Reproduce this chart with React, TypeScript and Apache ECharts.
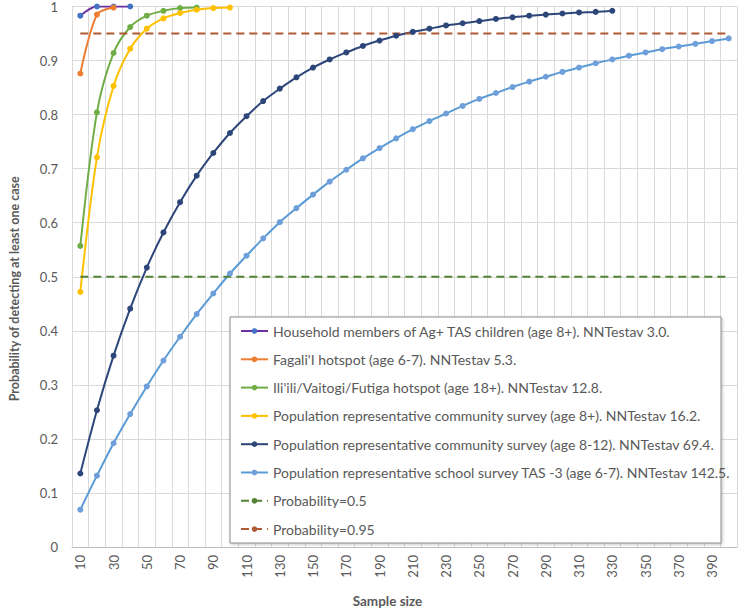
import React, { useEffect, useRef } from 'react';
import * as echarts from 'echarts';

const categories = [
  '10', '20', '30', '40', '50', '60', '70', '80', '90', '100',
  '110', '120', '130', '140', '150', '160', '170', '180', '190', '200',
  '210', '220', '230', '240', '250', '260', '270', '280', '290', '300',
  '310', '320', '330', '340', '350', '360', '370', '380', '390', '400',
];

const household = [0.983, 1.0, 1.0, 1.0];
const fagali = [0.876, 0.985, 0.998];
const iliili = [0.557, 0.804, 0.914, 0.962, 0.983, 0.992, 0.997, 0.998];
const communityAll = [0.472, 0.721, 0.853, 0.922, 0.959, 0.978, 0.988, 0.994, 0.997, 0.998];
const community812 = [
  0.136, 0.253, 0.354, 0.441, 0.517, 0.582, 0.638, 0.687, 0.729, 0.766,
  0.797, 0.825, 0.848, 0.869, 0.887, 0.902, 0.915, 0.927, 0.937, 0.946,
  0.953, 0.959, 0.965, 0.969, 0.973, 0.977, 0.980, 0.983, 0.985, 0.987,
  0.989, 0.990, 0.992,
];
const school = [
  0.069, 0.132, 0.192, 0.246, 0.297, 0.345, 0.389, 0.431, 0.469, 0.506,
  0.539, 0.571, 0.601, 0.627, 0.652, 0.676, 0.698, 0.719, 0.738, 0.756,
  0.773, 0.788, 0.802, 0.816, 0.829, 0.840, 0.851, 0.861, 0.870, 0.879,
  0.887, 0.895, 0.902, 0.909, 0.915, 0.921, 0.926, 0.931, 0.936, 0.941,
];
const thresholdLow = 0.5;
const thresholdHigh = 0.95;

const seriesNames = [
  'Household members of Ag+ TAS children (age 8+). NNTestav 3.0.',
  "Fagali'I hotspot (age 6-7). NNTestav 5.3.",
  "Ili'ili/Vaitogi/Futiga hotspot (age 18+). NNTestav 12.8.",
  'Population representative community survey (age 8+). NNTestav 16.2.',
  'Population representative community survey (age 8-12). NNTestav 69.4.',
  'Population representative school survey TAS -3 (age 6-7). NNTestav 142.5.',
  'Probability=0.5',
  'Probability=0.95',
];

const FONT = 'Lato';
const TEXT = '#595959';

function lineSeries(name: string, data: number[], lineColor: string, markerColor: string) {
  return {
    name,
    type: 'line',
    data,
    smooth: 0.3,
    symbol: 'circle',
    symbolSize: 6,
    showSymbol: true,
    lineStyle: { color: lineColor, width: 2 },
    itemStyle: { color: markerColor },
    z: 2,
  };
}

function dashSeries(name: string, value: number, color: string) {
  const first = categories[0];
  const last = categories[categories.length - 1];
  return {
    name,
    type: 'line',
    data: [[first, value], [last, value]],
    symbol: 'none',
    lineStyle: { color, width: 2, type: [8, 5] },
    itemStyle: { color },
    z: 2,
  };
}

export default function App() {
  const ref = useRef<HTMLDivElement>(null);
  useEffect(() => {
    const chart = echarts.init(ref.current!, null, { renderer: 'svg' });
    chart.setOption({
      animation: false,
      textStyle: { fontFamily: FONT },
      grid: { left: 62, right: 1, top: 5, bottom: 59, containLabel: false },
      xAxis: {
        type: 'category',
        data: categories,
        boundaryGap: true,
        name: 'Sample size',
        nameLocation: 'middle',
        nameGap: 47,
        nameTextStyle: { color: TEXT, fontSize: 13.5, fontWeight: 'bold', fontFamily: FONT, padding: [0, 34, 0, 0] },
        axisLine: { show: true, lineStyle: { color: '#bfbfbf', width: 1 } },
        axisTick: { show: false },
        axisLabel: { interval: 1, rotate: 90, margin: 8, color: TEXT, fontSize: 13, fontFamily: FONT },
        splitLine: { show: true, interval: 0, lineStyle: { color: '#d9d9d9', width: 1 } },
      },
      yAxis: {
        type: 'value',
        min: 0,
        max: 1,
        interval: 0.1,
        name: 'Probability of detecting at least one case',
        nameLocation: 'middle',
        nameGap: 51,
        nameTextStyle: { color: TEXT, fontSize: 12.5, fontWeight: 'bold', fontFamily: FONT, padding: [0, 24, 0, 0] },
        axisLine: { show: false },
        axisTick: { show: false },
        axisLabel: { color: TEXT, fontSize: 13, fontFamily: FONT, margin: 14 },
        splitLine: { show: true, lineStyle: { color: '#d9d9d9', width: 1 } },
      },
      legend: {
        orient: 'vertical',
        left: 240,
        top: 323,
        itemWidth: 27,
        itemHeight: 7,
        itemGap: 12.3,
        padding: 0,
        textStyle: { color: TEXT, fontSize: 14, fontFamily: FONT, lineHeight: 16 },
        data: seriesNames,
        z: 10,
      },
      graphic: {
        elements: [
          {
            type: 'rect',
            z: 5,
            shape: { x: 230, y: 317, width: 491, height: 226 },
            style: {
              fill: '#ffffff',
              stroke: '#8c8c8c',
              lineWidth: 1,
              shadowBlur: 3,
              shadowColor: 'rgba(0,0,0,0.25)',
              shadowOffsetX: 1,
              shadowOffsetY: 1,
            },
          },
        ],
      },
      series: [
        lineSeries(seriesNames[0], household, '#7030A0', '#4472C4'),
        lineSeries(seriesNames[1], fagali, '#ED7D31', '#ED7D31'),
        lineSeries(seriesNames[2], iliili, '#70AD47', '#70AD47'),
        lineSeries(seriesNames[3], communityAll, '#FFC000', '#FFC000'),
        lineSeries(seriesNames[4], community812, '#2C4679', '#2C4679'),
        lineSeries(seriesNames[5], school, '#5B9BD5', '#6E9FDA'),
        dashSeries(seriesNames[6], thresholdLow, '#548235'),
        dashSeries(seriesNames[7], thresholdHigh, '#AE5A35'),
      ],
    });
    return () => chart.dispose();
  }, []);
  return (
    <div
      ref={ref}
      style={{ position: 'fixed', left: 0, top: 0, width: 738, height: 613, background: '#ffffff' }}
    />
  );
}
